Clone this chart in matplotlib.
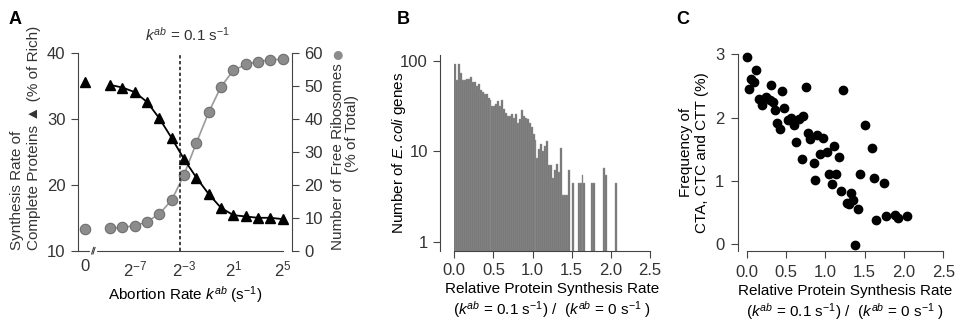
import numpy as np
import matplotlib
matplotlib.use("Agg")
import matplotlib.pyplot as plt

# fonts / style
plt.rcParams['font.family'] = ['Liberation Sans', 'DejaVu Sans']
plt.rcParams['font.size'] = 11
plt.rcParams['mathtext.fontset'] = 'custom'
plt.rcParams['mathtext.rm'] = 'Liberation Sans'
plt.rcParams['mathtext.it'] = 'Liberation Sans:italic'
plt.rcParams['text.color'] = '#333333'
plt.rcParams['axes.edgecolor'] = '#444444'
plt.rcParams['xtick.color'] = '#444444'
plt.rcParams['ytick.color'] = '#444444'
plt.rcParams['xtick.labelcolor'] = '#333333'
plt.rcParams['ytick.labelcolor'] = '#333333'

W, H = 956, 320

# ---- panel A data ----
k_exp = list(range(-9, 6))                      # k_ab = 2**exp, plus k_ab = 0
k_ab = [0.0] + [2.0 ** e for e in k_exp]
synth_rate = [35.6, 35.2, 34.8, 34.1, 32.6, 30.1, 27.1, 23.9, 21.1, 18.6,
              16.5, 15.4, 15.2, 15.0, 15.0, 14.8]
free_ribo = [6.6, 6.8, 7.1, 7.6, 8.8, 11.2, 15.4, 23.1, 32.8, 42.1,
             49.9, 54.8, 56.6, 57.5, 58.0, 58.2]
k_marked = 0.1
a_ticks = [0.0, 2.0 ** -7, 2.0 ** -3, 2.0 ** 1, 2.0 ** 5]
a_ticklabels = ['0', '$2^{-7}$', '$2^{-3}$', '$2^{1}$', '$2^{5}$']

# ---- panel B data (histogram, bin width 0.025 starting at 0) ----
bin_width = 0.025
gene_counts = [90, 60, 90, 72, 60, 60, 62, 62, 65, 57,
               57, 52, 55, 47, 45, 42, 42, 38, 36, 31,
               31, 33, 35, 31, 36, 29, 26, 24, 24, 25,
               23, 25, 20, 22, 28, 24, 23, 22, 20, 18,
               15, 13, 8, 10, 11.5, 9.5, 11, 12.5, 6.5, 6.5,
               4.6, 5.7, 6.8, 5.5, 10.5, 2.8, 2.8, 2.8, 5.7, 0,
               4, 0, 0, 4, 4, 5, 4, 0, 0, 0,
               4, 4, 0, 0, 0, 0, 6, 5, 0, 0,
               0, 0, 4]

# ---- panel C data ----
rel_rate = [0.00, 0.03, 0.06, 0.09, 0.12, 0.16, 0.19, 0.245, 0.29, 0.305,
            0.33, 0.355, 0.39, 0.42, 0.45, 0.48, 0.53, 0.56, 0.60, 0.63,
            0.66, 0.70, 0.72, 0.75, 0.78, 0.81, 0.85, 0.87, 0.90, 0.93,
            0.97, 1.02, 1.05, 1.08, 1.11, 1.14, 1.18, 1.20, 1.23, 1.27,
            1.30, 1.32, 1.35, 1.38, 1.42, 1.44, 1.50, 1.59, 1.62, 1.65,
            1.74, 1.77, 1.89, 1.93, 2.04]
cta_freq = [2.95, 2.45, 2.61, 2.57, 2.76, 2.30, 2.20, 2.32, 2.28, 2.51,
            2.24, 2.12, 1.92, 1.82, 2.42, 2.16, 1.96, 1.99, 1.88, 1.62,
            1.98, 1.34, 2.02, 2.49, 1.75, 1.67, 1.29, 1.02, 1.72, 1.42,
            1.68, 1.46, 1.11, 0.96, 1.56, 1.11, 1.38, 0.85, 2.43, 0.66,
            0.64, 0.81, 0.70, -0.01, 0.56, 1.11, 1.88, 1.52, 1.04, 0.38,
            0.97, 0.44, 0.47, 0.41, 0.45]

rate_ticks = [0.0, 0.5, 1.0, 1.5, 2.0, 2.5]
ratio_label = ('Relative Protein Synthesis Rate\n'
               '($k^{ab}$ = 0.1 s$^{-1}$) /  ($k^{ab}$ = 0 s$^{-1}$ )')


def box(x0, y0, x1, y1):
    # pixel box (top-left origin) -> figure fraction rect
    return [x0 / W, 1 - y1 / H, (x1 - x0) / W, (y1 - y0) / H]


fig = plt.figure(figsize=(W / 100, H / 100), dpi=100)

# ================= A =================
zero_pos = 2.0 ** -11
xpos = [zero_pos if k == 0 else k for k in k_ab]

ax = fig.add_axes(box(78, 53.3, 292, 250.7))
ax2 = ax.twinx()
ax.set_xscale('log', base=2)
ax.set_xlim(2.0 ** -11.6, 2.0 ** 5.75)
ax.set_ylim(10, 40)
ax2.set_ylim(0, 60)

ax2.plot(xpos[1:], free_ribo[1:], color='#9a9a9a', lw=1.2, zorder=1)
ax2.plot(xpos, free_ribo, 'o', ms=7.5, mfc='#8c8c8c', mec='#6e6e6e', mew=0.8,
         zorder=2)
ax.plot(xpos[1:], synth_rate[1:], color='black', lw=1.3, zorder=3)
ax.plot(xpos, synth_rate, '^', ms=7, color='black', zorder=4)
ax.set_zorder(ax2.get_zorder() + 1)
ax.patch.set_visible(False)

ax.axvline(k_marked, color='#222222', ls=(0, (2, 1.5)), lw=1.2, zorder=0)
ax.text(k_marked * 1.5, 41.5, '$k^{ab}$ = 0.1 s$^{-1}$', ha='center',
        va='bottom', fontsize=11)

ax.set_xticks(a_ticks[1:] + [zero_pos])
ax.set_xticklabels(a_ticklabels[1:] + ['0'])
ax.xaxis.set_minor_locator(matplotlib.ticker.NullLocator())
ax.set_yticks([10, 20, 30, 40])
ax2.set_yticks(range(0, 61, 10))
for a in (ax, ax2):
    a.spines['top'].set_visible(False)
    a.tick_params(labelsize=12, length=5, pad=4)
ax.spines['right'].set_visible(False)
ax2.spines['left'].set_visible(False)
ax2.spines['bottom'].set_visible(False)
ax.spines['bottom'].set_bounds(2.0 ** -11.6, 2.0 ** 5)
ax.tick_params(axis='x', length=0, pad=6)

# axis break marks
brk = 2.0 ** -10.3
ax.plot([brk / 1.12, brk * 1.05], [10, 10], color='white', lw=3,
        clip_on=False, zorder=5)
for f in (brk / 1.08, brk):
    ax.plot([f / 1.06, f * 1.06], [9.5, 10.5], color='#444444', lw=0.8,
            clip_on=False, zorder=6)

ax.set_xlabel('Abortion Rate $k^{ab}$ (s$^{-1}$)', fontsize=11, labelpad=4)
fig.text(17 / W, 1 - 250 / H, 'Synthesis Rate of', rotation=90,
         ha='center', va='bottom', fontsize=11)
fig.text(34 / W, 1 - 250 / H, 'Complete Proteins \u25B2 (% of Rich)',
         rotation=90, ha='center', va='bottom', fontsize=11)
fig.text(338 / W, 1 - 250 / H, 'Number of Free Ribosomes', rotation=90,
         ha='center', va='bottom', fontsize=11)
fig.text(338 / W, 1 - 55 / H, '\u25CF', color='#8c8c8c', ha='center',
         va='center', fontsize=15)
fig.text(352 / W, 1 - 133 / H, '(% of Total)', rotation=90,
         ha='center', va='center', fontsize=11)

# ================= B =================
bx = fig.add_axes(box(454.3, 55, 650, 250.6))
bx.set_yscale('log')
edges = np.arange(len(gene_counts)) * bin_width
counts = np.array(gene_counts, dtype=float)
keep = counts > 0
bx.bar(edges[keep], counts[keep], width=bin_width, align='edge',
       bottom=0.5, color='#727272', edgecolor='#9a9a9a', linewidth=0.3)
bx.set_ylim(0.81, 115)
bx.set_xlim(0, 2.5)
bx.set_yticks([1, 10, 100])
bx.set_yticklabels(['1', '10', '100'])
bx.yaxis.set_minor_locator(matplotlib.ticker.NullLocator())
bx.set_xticks(rate_ticks)
bx.set_xticklabels([f'{t:.1f}' for t in rate_ticks])
bx.spines['left'].set_position(('outward', 10))
for s in ('top', 'right'):
    bx.spines[s].set_visible(False)
bx.tick_params(labelsize=12, length=5, pad=4)
bx.set_ylabel('Number of $\\mathit{E.coli}$ genes', fontsize=11)
bx.yaxis.set_label_coords(-0.235, 0.5)
bx.set_xlabel(ratio_label, fontsize=11, labelpad=3)

# ================= C =================
cx = fig.add_axes(box(746.7, 54.3, 943.3, 250.7))
cx.scatter(rel_rate, cta_freq, s=36, color='black', zorder=3, clip_on=False)
cx.set_xlim(0, 2.5)
cx.set_ylim(-0.1, 3.0)
cx.set_yticks([0, 1, 2, 3])
cx.set_xticks(rate_ticks)
cx.set_xticklabels([f'{t:.1f}' for t in rate_ticks])
cx.spines['left'].set_position(('outward', 6))
for s in ('top', 'right'):
    cx.spines[s].set_visible(False)
cx.tick_params(labelsize=12, length=5, pad=5)
cx.set_ylabel('Frequency of\nCTA, CTC and CTT (%)', fontsize=11)
cx.yaxis.set_label_coords(-0.19, 0.5)
cx.set_xlabel(ratio_label, fontsize=11, labelpad=3)

# panel letters
for lx, letter in ((15, 'A'), (403, 'B'), (683, 'C')):
    fig.text(lx / W, 1 - 20 / H, letter, fontsize=13, fontweight='bold',
             ha='center', va='center', color='black')

fig.savefig('out.png', dpi=100)
